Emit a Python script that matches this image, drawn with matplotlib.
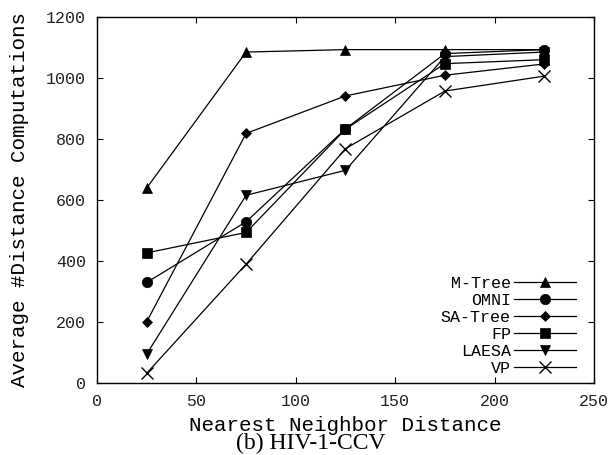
import matplotlib
matplotlib.use("Agg")
import matplotlib.pyplot as plt

x = [25, 75, 125, 175, 225]
mtree = [639, 1085, 1093, 1093, 1093]
omni = [329, 528, 833, 1080, 1093]
satree = [200, 818, 941, 1009, 1046]
fp = [426, 493, 832, 1047, 1060]
laesa = [94, 615, 697, 1070, 1085]
vp = [31, 389, 768, 957, 1006]

series = [
    ("M-Tree", mtree, "^", 7.5),
    ("OMNI", omni, "o", 7.5),
    ("SA-Tree", satree, "D", 5.5),
    ("FP", fp, "s", 7),
    ("LAESA", laesa, "v", 7.5),
    ("VP", vp, "x", 9),
]

mono = "Liberation Mono"
fig = plt.figure(figsize=(6.16, 4.55), dpi=100)
ax = fig.add_axes([97/616, 1-382.7/455, (594-97)/616, (382.7-17)/455])

for name, vals, m, ms in series:
    ax.plot(x, vals, color="black", lw=0.9, marker=m, markersize=ms,
            markeredgewidth=1.0 if m == "x" else 0.5, label=name)

ax.set_xlim(0, 250)
ax.set_ylim(0, 1200)
ax.set_xticks([0, 50, 100, 150, 200, 250])
ax.set_yticks([0, 200, 400, 600, 800, 1000, 1200])
ax.tick_params(direction="in", top=True, right=True, length=4, width=0.8,
               labelsize=12, pad=8)
for lab in ax.get_xticklabels() + ax.get_yticklabels():
    lab.set_fontfamily(mono)
    lab.set_color("#222222")
for s in ax.spines.values():
    s.set_linewidth(1.0)

ax.set_xlabel("Nearest Neighbor Distance", fontfamily=mono, fontsize=15, labelpad=5)
ax.set_ylabel("Average #Distance Computations", fontfamily=mono, fontsize=15, labelpad=12)

leg = ax.legend(loc="lower right", bbox_to_anchor=(0.977, 0.0), frameon=False,
                markerfirst=False, handlelength=3.7, handletextpad=0.2,
                labelspacing=0.12, borderaxespad=0.0,
                prop={"family": mono, "size": 12})

fig.text(311/616, 1-443.5/455, "(b) HIV-1-CCV", ha="center", va="center",
         fontfamily="Liberation Serif", fontsize=17)

fig.savefig("out.png", dpi=100)
